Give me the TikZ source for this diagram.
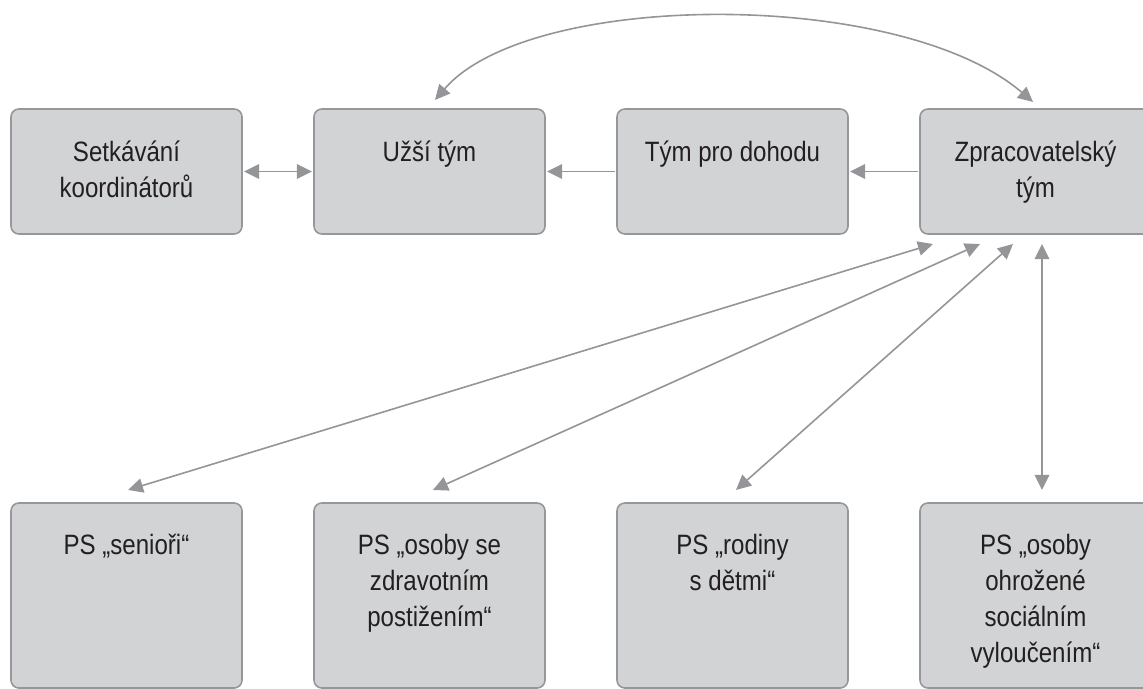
\documentclass[tikz,border=0pt]{standalone}
\usepackage{fontspec}
\setmainfont{Liberation Sans}[FakeStretch=0.86]
\usetikzlibrary{arrows.meta,positioning}
\definecolor{boxfill}{RGB}{209,211,212}
\definecolor{boxline}{RGB}{150,151,154}
\definecolor{arrowgray}{RGB}{147,149,152}
\definecolor{textdark}{RGB}{35,31,32}
\begin{document}
\begin{tikzpicture}
[x=0.025cm,y=-0.025cm,
  teambox/.style={shape=rectangle,rounded corners=0.2cm,draw=boxline,fill=boxfill,line width=0.04cm,inner sep=0pt,outer sep=0.05cm,minimum width=5.775cm},
  topbox/.style={teambox,minimum height=3.125cm},
  groupbox/.style={teambox,minimum height=4.625cm},
  boxtext/.style={anchor=north,inner sep=0pt,align=center,text=textdark,font=\fontsize{19.9pt}{25.6pt}\selectfont},
  arrowdecorate/.style={-{Triangle[length=0.375cm,width=0.36cm]},draw=arrowgray,line width=0.04cm},
  arrowboth/.style={{Triangle[length=0.375cm,width=0.36cm]}-{Triangle[length=0.375cm,width=0.36cm]},draw=arrowgray,line width=0.04cm}]
\useasboundingbox (0,0) rectangle (1143,689);
% teams
\node (setk) at (126.5,171.5) [topbox] {};
\node [boxtext] at ([yshift=-0.83cm]setk.north) {Setkávání\\koordinátorů};
\node (uzsi) at (429.5,171.5) [topbox] {};
\node [boxtext] at ([yshift=-0.83cm]uzsi.north) {Užší tým};
\node (dohoda) at (732.5,171.5) [topbox] {};
\node [boxtext] at ([yshift=-0.83cm]dohoda.north) {Tým pro dohodu};
\node (zprac) at (1035.5,171.5) [topbox] {};
\node [boxtext] at ([yshift=-0.83cm]zprac.north) {Zpracovatelský\\tým};
% working groups
\node (senior) at (126.5,595.5) [groupbox] {};
\node [boxtext] at ([yshift=-0.83cm]senior.north) {PS „senioři“};
\node (postiz) at (429.5,595.5) [groupbox] {};
\node [boxtext] at ([yshift=-0.83cm]postiz.north) {PS „osoby se\\zdravotním\\postižením“};
\node (rodiny) at (732.5,595.5) [groupbox] {};
\node [boxtext] at ([yshift=-0.83cm]rodiny.north) {PS „rodiny\\s dětmi“};
\node (vylouc) at (1035.5,595.5) [groupbox] {};
\node [boxtext] at ([yshift=-0.83cm]vylouc.north) {PS „osoby\\ohrožené\\sociálním\\vyloučením“};
% links
\draw[arrowboth] (setk) -- (uzsi);
\draw[arrowdecorate] (dohoda) -- (uzsi);
\draw[arrowdecorate] (zprac) -- (dohoda);
\draw[arrowboth] ([xshift=0.1375cm,yshift=0.175cm]uzsi.north) .. controls +(95,-110) and +(-133,-114) .. ([xshift=-0.0625cm,yshift=0.125cm]zprac.north);
\draw[arrowboth] ([xshift=-2.5625cm,yshift=-0.2cm]zprac.south) -- ([xshift=0.0375cm,yshift=0.275cm]senior.north);
\draw[arrowboth] ([xshift=-1.3875cm,yshift=-0.2cm]zprac.south) -- ([xshift=0.0875cm,yshift=0.275cm]postiz.north);
\draw[arrowboth] ([xshift=-0.5625cm,yshift=-0.2cm]zprac.south) -- ([xshift=0.0875cm,yshift=0.275cm]rodiny.north);
\draw[arrowboth] ([xshift=0.1625cm,yshift=-0.2cm]zprac.south) -- ([xshift=0.1625cm,yshift=0.275cm]vylouc.north);
\end{tikzpicture}
\end{document}
